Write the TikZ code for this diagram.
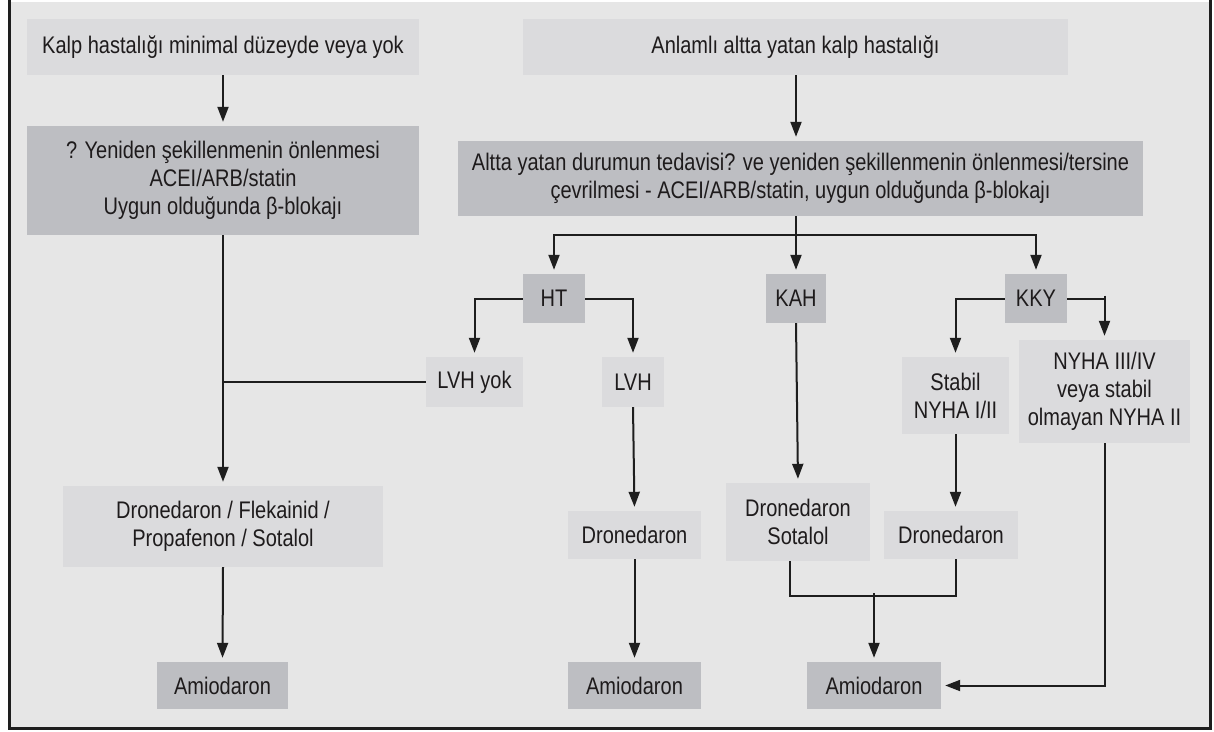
\documentclass[tikz,border=0pt]{standalone}
\usepackage{fontspec}
\setmainfont{Liberation Sans}[FakeStretch=0.834]
\usetikzlibrary{arrows.meta}
\definecolor{bgfill}{RGB}{230,230,230}
\definecolor{lightbox}{RGB}{219,219,221}
\definecolor{darkbox}{RGB}{189,190,194}
\definecolor{txt}{RGB}{30,27,28}
\definecolor{linec}{RGB}{30,30,30}
\begin{document}
\begin{tikzpicture}[x=1pt,y=-1pt,
  box/.style={inner sep=0pt, align=center, text=txt, font=\fontsize{24}{28}\selectfont},
  lite/.style={box, fill=lightbox},
  dark/.style={box, fill=darkbox},
  conn/.style={draw=linec, line width=2pt},
  arr/.style={conn, -{Triangle[length=15pt,width=11pt]}, shorten >=4pt},
]
\useasboundingbox (0,0) rectangle (1214,731);
\fill[white] (0,0) rectangle (1214,731);
\fill[bgfill] (9.5,2) rectangle (1210.5,728.5);
\draw[line width=3pt, linec] (9.5,0) -- (9.5,728.5) -- (1210.5,728.5) -- (1210.5,0);

% top row
\node[lite, minimum width=392pt, minimum height=56pt] (b1) at (223,47)
  {Kalp hastalığı minimal düzeyde veya yok};
\node[lite, minimum width=545pt, minimum height=56pt] (b2) at (795.5,47)
  {Anlamlı altta yatan kalp hastalığı};

% treatment boxes
\node[dark, minimum width=392pt, minimum height=109pt] (b3) at (223,180.5)
  {? Yeniden şekillenmenin önlenmesi\\ACEI/ARB/statin\\Uygun olduğunda β-blokajı};
\node[dark, minimum width=685pt, minimum height=75pt] (b4) at (800.5,178.5)
  {Altta yatan durumun tedavisi? ve yeniden şekillenmenin önlenmesi/tersine\\
   çevrilmesi - ACEI/ARB/statin, uygun olduğunda β-blokajı};

% disease groups
\node[dark, minimum width=62pt, minimum height=49pt] (ht) at (554,298.5) {HT};
\node[dark, minimum width=60pt, minimum height=49pt] (kah) at (796,298.5) {KAH};
\node[dark, minimum width=62pt, minimum height=49pt] (kky) at (1036,298.5) {KKY};

% subgroups
\node[lite, minimum width=97pt, minimum height=50pt] (lvhyok) at (474.5,382) {LVH yok};
\node[lite, minimum width=62pt, minimum height=50pt] (lvh) at (633,382) {LVH};
\node[lite, minimum width=107pt, minimum height=77pt] (stabil) at (955.5,395.5)
  {Stabil\\NYHA I/II};
\node[lite, minimum width=171pt, minimum height=103pt] (nyha) at (1104.5,391.5)
  {NYHA III/IV\\veya stabil\\olmayan NYHA II};

% drugs
\node[lite, minimum width=320pt, minimum height=81pt] (dff) at (223,526.5)
  {Dronedaron / Flekainid /\\Propafenon / Sotalol};
\node[lite, minimum width=133pt, minimum height=48pt] (dmid) at (634.5,535) {Dronedaron};
\node[lite, minimum width=144pt, minimum height=78pt] (dsot) at (798,522)
  {Dronedaron\\Sotalol};
\node[lite, minimum width=134pt, minimum height=48pt] (dright) at (951,535) {Dronedaron};

\node[dark, minimum width=131pt, minimum height=47pt] (a1) at (222.5,685.5) {Amiodaron};
\node[dark, minimum width=133pt, minimum height=47pt] (a2) at (634.5,685.5) {Amiodaron};
\node[dark, minimum width=134pt, minimum height=47pt] (a3) at (874,685.5) {Amiodaron};

% helper points of the connectors
\coordinate (split) at (796,235);
\coordinate (mL) at (790,596);
\coordinate (mR) at (956,596);
\coordinate (mC) at (874,596);

% left column
\draw[arr] (b1.south -| b3) -- (b3.north);
\draw[arr] (b3.south) -- (dff.north);
\draw[conn] (lvhyok.west) -- (lvhyok.west -| b3);
\draw[arr] (dff.south) -- (a1.north);

% right column
\draw[arr] (b2.south -| kah) -- (b4.north -| kah);
\draw[arr] (b4.south -| kah) -- (kah.north);
\draw[arr] (split) -| (ht.north);
\draw[arr] (split) -| (kky.north);

\draw[arr] (ht.west) -| (lvhyok.north);
\draw[arr] (ht.east) -| (lvh.north);
\draw[arr] (lvh.south) -- (dmid.north);
\draw[arr] (dmid.south) -- (a2.north);

\draw[arr] (kah.south) -- (dsot.north);

\draw[arr] (kky.west) -| (stabil.north);
\draw[conn] (kky.east) -- (kky.east -| nyha);
\draw[arr] ([yshift=3pt]kky.east -| nyha) -- (nyha.north);
\draw[arr] (stabil.south) -- (stabil.south |- dright.north);

\draw[conn] (dsot.south -| mL) -- (mL) -- (mR) -- (dright.south -| mR);
\draw[arr] ([yshift=3pt]mC) -- (a3.north);
\draw[arr] (nyha.south) |- (a3.east);
\end{tikzpicture}
\end{document}
